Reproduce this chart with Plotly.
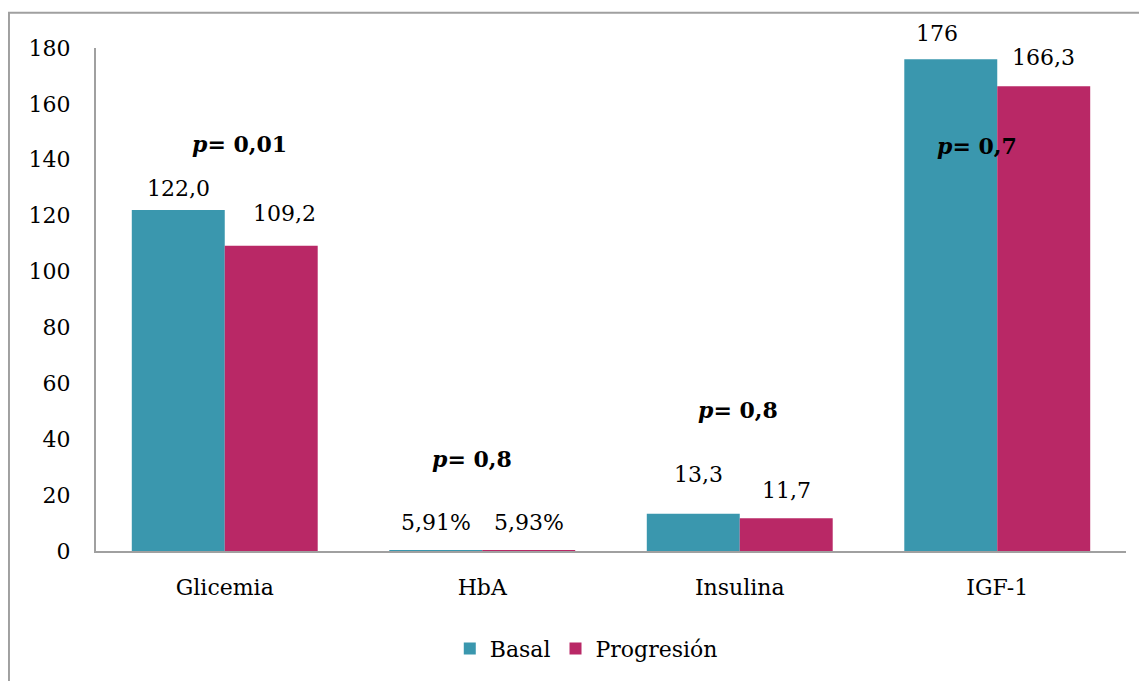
import plotly.graph_objects as go

categories = ["Glicemia", "HbA", "Insulina", "IGF-1"]
basal = [122.0, 0.0591, 13.3, 176.0]
progresion = [109.2, 0.0593, 11.7, 166.3]
basal_text = ["122,0", "5,91%", "13,3", "176"]
progresion_text = ["109,2", "5,93%", "11,7", "166,3"]
p_values = ["0,01", "0,8", "0,8", "0,7"]
y_ticks = [0, 20, 40, 60, 80, 100, 120, 140, 160, 180]

# label placement (pixel offsets) — layout, not data
basal_lbl_shift = [(0, 22), (0, 28), (5, 39), (-14, 26)]
prog_lbl_shift = [(13, 32), (0, 28), (0, 28), (0, 29)]
p_pos = [(145.5, 15), (33.0, -10), (50.6, -2), (144.8, -20)]

TEAL = "#3A97AE"
MAGENTA = "#B92866"
FONT = "DejaVu Serif"

fig = go.Figure()
fig.add_trace(go.Bar(name="Basal", x=categories, y=basal, marker_color=TEAL,
                     marker_line_width=0))
fig.add_trace(go.Bar(name="Progresión", x=categories, y=progresion, marker_color=MAGENTA,
                     marker_line_width=0))

ann = []
for i, c in enumerate(categories):
    dx, dy = basal_lbl_shift[i]
    ann.append(dict(x=c, y=basal[i], text=basal_text[i], showarrow=False,
                    xshift=-46.5 + dx, yshift=dy, font=dict(size=22, family=FONT, color="black")))
    dx, dy = prog_lbl_shift[i]
    ann.append(dict(x=c, y=progresion[i], text=progresion_text[i], showarrow=False,
                    xshift=46.5 + dx, yshift=dy, font=dict(size=22, family=FONT, color="black")))
    py, px = p_pos[i]
    ann.append(dict(x=c, y=py, text="<b><i>p</i>= " + p_values[i] + "</b>", showarrow=False,
                    xshift=px, font=dict(size=22, family=FONT, color="black")))

fig.update_layout(
    width=1139, height=673,
    margin=dict(l=88, r=21, t=40, b=124),
    paper_bgcolor="white", plot_bgcolor="white",
    barmode="group", bargap=0.278, bargroupgap=0,
    font=dict(family=FONT, size=22, color="black"),
    showlegend=True,
    legend=dict(orientation="h", x=0.476, xanchor="center", y=-0.194, yanchor="middle",
                font=dict(size=22, family=FONT), itemsizing="constant",
                itemclick=False, traceorder="normal", tracegroupgap=0),
    annotations=ann,
    shapes=[dict(type="rect", xref="paper", yref="paper",
                 x0=-0.0845, x1=1.05, y0=-0.4, y1=1.0699,
                 line=dict(color="#A0A0A0", width=2), fillcolor="rgba(0,0,0,0)", layer="below")],
)
fig.update_xaxes(showline=True, linecolor="#A0A0A0", linewidth=2, showgrid=False,
                 ticks="", ticklabelstandoff=16, tickfont=dict(size=22, family=FONT))
fig.update_yaxes(range=[0, 180], tickvals=y_ticks, showline=True, linecolor="#A0A0A0",
                 linewidth=2, showgrid=False, zeroline=False, ticks="",
                 ticklabelstandoff=19, tickfont=dict(size=22, family=FONT))

fig.write_html("out.html")
